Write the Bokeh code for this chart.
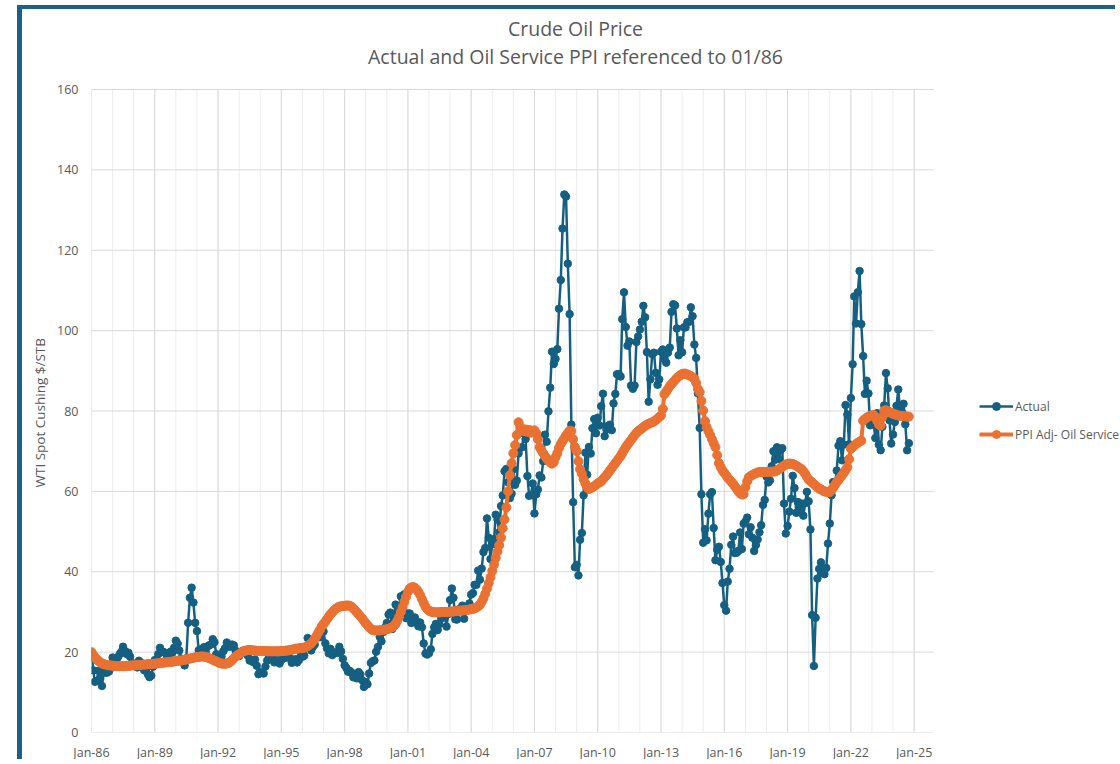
import pandas as pd
from bokeh.plotting import figure
from bokeh.models import (FixedTicker, DatetimeTickFormatter, Range1d, Legend,
                          LegendItem, ColumnDataSource, Title, Label)
from bokeh.embed import file_html
from bokeh.resources import INLINE

# ---------------- data (monthly, Jan 1986 .. Oct 2024) ----------------
start_month = "1986-01-01"

actual = [
    20.0, 15.46, 12.61, 12.84, 15.38, 13.43, 11.59, 15.10, 14.87, 14.90, 15.22, 16.11,
    18.65, 17.75, 18.30, 18.68, 19.44, 20.07, 21.34, 20.31, 19.53, 19.86, 18.85, 17.28,
    17.13, 16.80, 16.20, 17.86, 17.42, 16.53, 15.50, 15.52, 14.54, 13.77, 14.14, 16.38,
    18.02, 17.94, 19.48, 21.07, 20.12, 20.05, 19.78, 18.58, 19.59, 20.10, 19.86, 21.10,
    22.86, 22.11, 20.39, 18.43, 18.20, 16.70, 18.45, 27.31, 33.51, 36.04, 32.33, 27.28,
    25.23, 20.48, 19.90, 20.83, 21.23, 20.19, 21.40, 21.69, 21.89, 23.23, 22.46, 19.50,
    18.79, 19.01, 18.92, 20.23, 20.98, 22.39, 21.78, 21.34, 21.88, 21.69, 20.34, 19.41,
    19.03, 20.09, 20.32, 20.25, 19.95, 19.09, 17.89, 18.01, 17.50, 18.15, 16.61, 14.52,
    15.03, 14.78, 14.68, 16.42, 17.89, 19.06, 19.66, 18.38, 17.45, 17.72, 18.07, 17.16,
    18.04, 18.57, 18.54, 19.90, 19.74, 18.45, 17.33, 18.02, 18.23, 17.43, 17.99, 19.03,
    18.86, 19.09, 21.33, 23.50, 21.17, 20.42, 21.30, 21.90, 23.97, 24.88, 23.71, 25.23,
    25.13, 22.18, 20.97, 19.70, 20.82, 19.26, 19.66, 19.95, 19.80, 21.33, 20.19, 18.33,
    16.72, 16.06, 15.12, 15.35, 14.91, 13.72, 14.17, 13.47, 15.03, 14.46, 13.00, 11.35,
    12.52, 12.01, 14.68, 17.31, 17.72, 17.92, 20.10, 21.28, 23.80, 22.69, 25.00, 26.10,
    27.26, 29.37, 29.84, 25.72, 28.79, 31.82, 29.70, 31.26, 33.88, 33.11, 34.42, 28.44,
    29.59, 29.61, 27.25, 27.49, 28.63, 27.60, 26.43, 27.37, 26.20, 22.17, 19.64, 19.39,
    19.72, 20.72, 24.53, 26.18, 27.04, 25.52, 26.97, 28.39, 29.66, 28.84, 26.35, 29.46,
    32.95, 35.83, 33.51, 28.17, 28.11, 30.66, 30.76, 31.57, 28.31, 30.34, 31.11, 32.13,
    34.31, 34.69, 36.74, 36.75, 40.28, 38.03, 40.78, 44.90, 45.94, 53.28, 48.47, 43.15,
    46.84, 48.15, 54.19, 52.98, 49.83, 56.35, 59.00, 64.99, 65.59, 62.26, 58.32, 59.41,
    65.49, 61.63, 62.69, 69.44, 70.84, 70.95, 74.41, 73.04, 63.80, 58.89, 59.08, 61.96,
    54.51, 59.28, 60.44, 63.98, 63.46, 67.49, 74.12, 72.36, 79.92, 85.80, 94.77, 91.69,
    92.97, 95.39, 105.45, 112.58, 125.40, 133.88, 133.37, 116.67, 104.11, 76.61, 57.31, 41.12,
    41.71, 39.09, 47.94, 49.65, 59.03, 69.64, 64.15, 71.05, 69.41, 75.72, 77.99, 74.47,
    78.33, 76.39, 81.20, 84.29, 73.74, 75.34, 76.32, 76.60, 75.24, 81.89, 84.25, 89.15,
    89.17, 88.58, 102.86, 109.53, 100.90, 96.26, 97.30, 86.33, 85.52, 86.32, 97.16, 98.56,
    100.27, 102.20, 106.16, 103.32, 94.66, 82.30, 87.90, 94.13, 94.51, 89.49, 86.53, 87.86,
    94.76, 95.31, 92.94, 92.02, 94.51, 95.77, 104.67, 106.57, 106.29, 100.54, 93.86, 97.63,
    94.62, 100.82, 100.80, 102.07, 102.18, 105.79, 103.59, 96.54, 93.21, 84.40, 75.79, 59.29,
    47.22, 50.58, 47.82, 54.45, 59.27, 59.82, 50.90, 42.87, 45.48, 46.22, 42.44, 37.19,
    31.68, 30.32, 37.55, 40.75, 46.71, 48.76, 44.65, 44.72, 45.18, 49.78, 45.66, 51.97,
    52.50, 53.47, 49.33, 51.06, 48.48, 45.18, 46.63, 48.04, 49.82, 51.58, 56.64, 57.88,
    63.70, 62.23, 62.73, 66.25, 69.98, 67.87, 70.98, 68.06, 70.23, 70.75, 56.96, 49.52,
    51.38, 54.95, 58.15, 63.86, 60.83, 54.66, 57.35, 54.81, 56.95, 53.96, 57.03, 59.88,
    57.52, 50.54, 29.21, 16.55, 28.56, 38.31, 40.71, 42.34, 39.63, 39.40, 40.94, 47.02,
    52.00, 59.04, 62.33, 61.72, 65.17, 71.38, 72.49, 67.73, 71.65, 81.48, 79.15, 71.71,
    83.22, 91.64, 108.50, 101.78, 109.55, 114.84, 101.62, 93.67, 84.26, 87.55, 84.37, 76.44,
    78.12, 76.83, 73.28, 79.45, 71.58, 70.25, 76.07, 81.39, 89.43, 85.64, 77.69, 71.90,
    74.15, 77.25, 81.28, 85.35, 80.02, 79.77, 81.80, 76.68, 70.24, 71.99,
]

ppi_adj = [
    20.0, 19.3, 18.7, 18.2, 17.8, 17.5, 17.2, 17.0, 16.9, 16.8, 16.7, 16.7,
    16.6, 16.6, 16.5, 16.5, 16.5, 16.5, 16.5, 16.5, 16.6, 16.6, 16.6, 16.7,
    16.7, 16.7, 16.8, 16.8, 16.8, 16.9, 16.9, 16.9, 17.0, 17.0, 17.0, 17.1,
    17.1, 17.2, 17.2, 17.3, 17.3, 17.4, 17.4, 17.5, 17.5, 17.6, 17.6, 17.7,
    17.8, 17.8, 17.9, 17.9, 18.0, 18.1, 18.2, 18.3, 18.4, 18.5, 18.6, 18.7,
    18.8, 18.8, 18.9, 18.9, 18.9, 18.8, 18.7, 18.5, 18.3, 18.1, 17.9, 17.7,
    17.5, 17.3, 17.2, 17.1, 17.1, 17.2, 17.3, 17.6, 18.0, 18.5, 18.9, 19.2,
    19.5, 19.8, 20.1, 20.3, 20.4, 20.5, 20.5, 20.5, 20.4, 20.4, 20.3, 20.3,
    20.3, 20.3, 20.3, 20.3, 20.2, 20.2, 20.2, 20.2, 20.2, 20.2, 20.2, 20.2,
    20.3, 20.3, 20.3, 20.4, 20.4, 20.5, 20.6, 20.7, 20.8, 20.9, 20.9, 21.0,
    21.0, 21.1, 21.3, 21.5, 21.8, 22.2, 22.7, 23.3, 24.0, 24.8, 25.6, 26.4,
    27.0, 27.6, 28.2, 28.8, 29.4, 29.9, 30.4, 30.8, 31.1, 31.3, 31.4, 31.5,
    31.5, 31.6, 31.6, 31.5, 31.3, 30.9, 30.4, 29.9, 29.4, 28.9, 28.4, 27.8,
    27.2, 26.7, 26.2, 25.8, 25.5, 25.4, 25.4, 25.4, 25.4, 25.5, 25.5, 25.6,
    25.7, 25.8, 26.0, 26.2, 26.5, 27.0, 27.8, 28.8, 30.0, 31.2, 32.5, 33.8,
    35.0, 35.8, 36.1, 36.2, 36.0, 35.6, 35.0, 34.2, 33.2, 32.2, 31.3, 30.7,
    30.3, 30.1, 30.0, 29.9, 29.9, 29.9, 29.9, 30.0, 30.0, 30.0, 30.0, 30.0,
    30.1, 30.1, 30.1, 30.2, 30.2, 30.3, 30.3, 30.4, 30.4, 30.5, 30.5, 30.6,
    30.7, 30.8, 30.9, 31.1, 31.4, 31.8, 32.5, 33.4, 34.5, 35.8, 37.2, 38.6,
    40.2, 41.8, 43.4, 45.0, 46.6, 48.5, 50.8, 53.0, 56.0, 60.0, 64.0, 67.0,
    69.5, 71.5, 74.0, 77.2, 76.0, 75.2, 75.0, 75.4, 74.8, 75.3, 74.6, 75.0,
    75.2, 74.5, 73.0, 71.0, 70.2, 69.5, 68.8, 68.2, 67.6, 67.2, 66.9, 67.2,
    68.5, 69.5, 70.8, 71.8, 72.5, 73.2, 73.9, 74.5, 75.1, 75.0, 73.0, 71.0,
    70.0, 67.5, 65.5, 64.4, 63.0, 62.0, 61.0, 60.6, 60.8, 61.0, 61.3, 61.6,
    62.0, 62.2, 62.5, 63.0, 63.5, 64.0, 64.6, 65.2, 65.8, 66.4, 67.0, 67.6,
    68.2, 68.8, 69.5, 70.3, 71.0, 71.6, 72.2, 72.8, 73.4, 74.0, 74.5, 75.0,
    75.3, 75.6, 76.0, 76.3, 76.6, 76.8, 77.0, 77.2, 77.4, 77.7, 78.1, 78.5,
    78.9, 80.5, 84.2, 84.8, 85.5, 86.2, 86.7, 87.2, 87.7, 88.2, 88.6, 88.9,
    89.2, 89.3, 89.3, 89.1, 88.9, 88.7, 88.4, 88.0, 87.0, 85.5, 84.7, 82.5,
    80.1, 77.5, 76.0, 75.0, 74.0, 73.0, 72.0, 71.0, 69.0, 67.0, 66.0, 65.2,
    64.6, 64.0, 63.4, 62.9, 62.4, 61.9, 61.3, 60.7, 60.0, 59.5, 59.2, 59.3,
    61.0, 62.5, 63.5, 63.8, 64.1, 64.3, 64.5, 64.7, 64.8, 64.8, 64.8, 64.8,
    64.8, 64.8, 64.9, 64.9, 64.9, 65.0, 65.2, 65.5, 65.8, 66.1, 66.4, 66.7,
    66.8, 66.9, 66.9, 66.8, 66.6, 66.4, 66.1, 65.8, 65.5, 65.0, 64.4, 63.6,
    62.9, 62.6, 62.2, 61.8, 61.4, 61.0, 60.7, 60.5, 60.2, 60.0, 59.9, 59.8,
    59.8, 60.3, 60.9, 61.6, 62.3, 62.8, 63.4, 64.0, 64.6, 65.3, 66.0, 68.0,
    70.6, 71.0, 71.4, 71.8, 72.1, 72.4, 72.6, 77.6, 78.0, 78.3, 78.6, 78.8,
    78.9, 79.0, 78.5, 77.5, 76.6, 76.4, 78.5, 80.1, 80.2, 80.0, 79.7, 79.5,
    79.3, 79.2, 79.0, 78.9, 78.8, 78.8, 78.7, 78.7, 78.6, 78.6,
]

tick_years = list(range(1986, 2026, 3))          # Jan-86 ... Jan-25
minor_years = list(range(1986, 2026))
y_ticks = [0, 20, 40, 60, 80, 100, 120, 140, 160]
y_max = 160
axis_start = "1986-01-01"
axis_end = "2025-12-05"

title_1 = "Crude Oil Price"
title_2 = "Actual and Oil Service PPI referenced to 01/86"
y_label = "WTI Spot Cushing $/STB"
series_names = ["Actual", "PPI Adj- Oil Service"]

# ---------------- build ----------------
FONT = "Open Sans"
TXT = "#595959"
BLUE = "#156082"
ORANGE = "#E97132"
FRAME_BLUE = "#1C5F87"
GRID = "#D9D9D9"
GRID_MINOR = "#EDEDED"

dates = pd.date_range(start_month, periods=len(actual), freq="MS")
src = ColumnDataSource(dict(date=dates, actual=actual, ppi=ppi_adj[:len(actual)]))


def ts(y):
    return pd.Timestamp(f"{y}-01-01")


# The canvas frame spans the whole chart object (plot area + titles + legend);
# the plot area itself is Jan-86 .. axis_end by 0 .. 160 inside it.
PLOT_W, PLOT_H = 843, 643          # plot area in px
FRAME_W, FRAME_H = 1030, 723       # full drawing frame in px
BL, BB = 68, 31

t0, t1 = pd.Timestamp(axis_start), pd.Timestamp(axis_end)
x_end = t0 + (t1 - t0) * (FRAME_W / PLOT_W)
y_end = y_max * FRAME_H / PLOT_H

p = figure(width=BL + FRAME_W, height=FRAME_H + BB,
           x_axis_type="datetime", output_backend="svg", toolbar_location=None,
           x_range=Range1d(t0, x_end), y_range=Range1d(0, y_end),
           min_border_left=BL, min_border_right=0, min_border_top=0, min_border_bottom=BB)
p.outline_line_color = None
p.background_fill_color = "white"
p.border_fill_color = "white"
# the dark-blue frame of the chart object (left and top edges visible)
p.styles = {"margin-left": "17px", "margin-top": "5px",
            "border-left": f"5px solid {FRAME_BLUE}",
            "border-top": f"4px solid {FRAME_BLUE}"}
p.xgrid.grid_line_color = None
p.ygrid.grid_line_color = None

# gridlines of the plot area
p.segment(x0=[ts(y) for y in minor_years], x1=[ts(y) for y in minor_years],
          y0=0, y1=y_max, line_color=GRID_MINOR, line_width=1)
p.segment(x0=[ts(y) for y in tick_years], x1=[ts(y) for y in tick_years],
          y0=0, y1=y_max, line_color=GRID, line_width=1)
p.segment(x0=t0, x1=t1, y0=y_ticks, y1=y_ticks, line_color=GRID, line_width=1)

# x axis
p.xaxis.ticker = FixedTicker(ticks=[ts(y).value / 1e6 for y in tick_years])
fmt = "%b-%y"
p.xaxis.formatter = DatetimeTickFormatter(years=fmt, months=fmt, days=fmt, hours=fmt,
                                          hourmin=fmt, minutes=fmt, minsec=fmt,
                                          seconds=fmt, milliseconds=fmt, microseconds=fmt)
p.xaxis.axis_line_color = None
p.xaxis.major_tick_line_color = None
p.xaxis.minor_tick_line_color = None
p.xaxis.major_tick_out = 0
p.xaxis.minor_tick_out = 0
p.xaxis.major_label_text_color = TXT
p.xaxis.major_label_text_font = FONT
p.xaxis.major_label_text_font_size = "12.5px"
p.xaxis.major_label_standoff = 11

# y axis
p.yaxis.ticker = FixedTicker(ticks=y_ticks)
p.yaxis.axis_line_color = None
p.yaxis.major_tick_line_color = None
p.yaxis.minor_tick_line_color = None
p.yaxis.major_tick_out = 0
p.yaxis.minor_tick_out = 0
p.yaxis.major_label_text_color = TXT
p.yaxis.major_label_text_font = FONT
p.yaxis.major_label_text_font_size = "12.5px"
p.yaxis.major_label_standoff = 13

# y axis title, centred on the plot area
p.add_layout(Title(text=y_label, align="left", offset=245, vertical_align="bottom",
                   standoff=12, text_font=FONT, text_font_size="13.5px",
                   text_font_style="normal", text_color=TXT), "left")

# series
bl = p.line("date", "actual", source=src, line_color=BLUE, line_width=2.5)
bs = p.scatter("date", "actual", source=src, size=7.5, fill_color=BLUE, line_color=BLUE)
ol = p.line("date", "ppi", source=src, line_color=ORANGE, line_width=4)
os_ = p.scatter("date", "ppi", source=src, size=9, fill_color=ORANGE, line_color=ORANGE)

legend = Legend(items=[LegendItem(label=series_names[0], renderers=[bl, bs]),
                       LegendItem(label=series_names[1], renderers=[ol, os_])],
                location=(888, 288), orientation="vertical",
                glyph_width=34, glyph_height=20, label_height=20, spacing=8,
                padding=0, margin=0, label_standoff=2,
                border_line_color=None, background_fill_alpha=0,
                label_text_font=FONT, label_text_font_size="12px",
                label_text_color=TXT)
p.add_layout(legend)

# two-line chart title (frame-relative pixels)
p.add_layout(Label(x=484, y=704, x_units="screen", y_units="screen", text=title_1,
                   text_align="center", text_baseline="middle", text_font=FONT,
                   text_font_size="19.5px", text_color=TXT))
p.add_layout(Label(x=484, y=676, x_units="screen", y_units="screen", text=title_2,
                   text_align="center", text_baseline="middle", text_font=FONT,
                   text_font_size="19.5px", text_color=TXT))

open("out.html", "w").write(file_html(p, INLINE))
